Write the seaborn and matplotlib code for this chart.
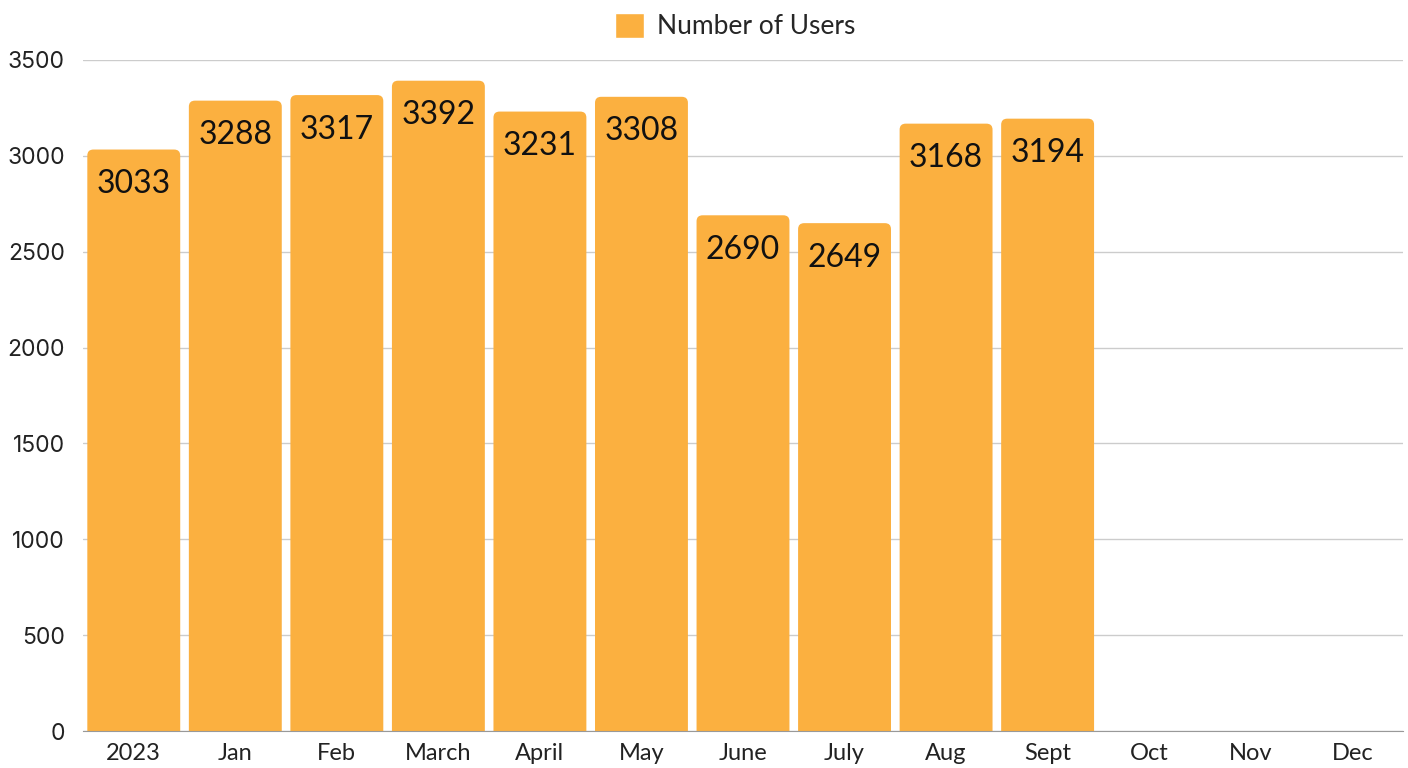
import matplotlib
matplotlib.use("Agg")
import matplotlib.pyplot as plt
import seaborn as sns
import pandas as pd
from matplotlib.patches import FancyBboxPatch, Patch

months = ["2023", "Jan", "Feb", "March", "April", "May", "June", "July",
          "Aug", "Sept", "Oct", "Nov", "Dec"]
users = [3033, 3288, 3317, 3392, 3231, 3308, 2690, 2649, 3168, 3194,
         None, None, None]
yticks = [0, 500, 1000, 1500, 2000, 2500, 3000, 3500]

bar_color = "#FBB040"

sns.set_style("white")
plt.rcParams["font.family"] = ["Lato", "DejaVu Sans"]

df = pd.DataFrame({"month": months, "users": users})

fig = plt.figure(figsize=(14.08, 7.68), dpi=100)
ax = fig.add_axes([83 / 1408, 1 - 731 / 768, 1320 / 1408, 671 / 768])

sns.barplot(data=df, x="month", y="users", color=bar_color, width=0.915,
            saturation=1, ax=ax, order=months)

# swap the flat bars for ones with rounded top corners
radius = 0.06
for patch in list(ax.patches):
    x, w, h = patch.get_x(), patch.get_width(), patch.get_height()
    if not h or h != h:
        patch.remove()
        continue
    rb = FancyBboxPatch((x + radius, -200 + radius * 520), w - 2 * radius,
                        h + 200 - 2 * radius * 520,
                        boxstyle=f"round,pad={radius},rounding_size={radius}",
                        mutation_aspect=520, facecolor=bar_color,
                        edgecolor="none", zorder=2)
    ax.add_patch(rb)
    patch.remove()
    ax.text(x + w / 2, h - 180, f"{h:.0f}", ha="center", va="center",
            fontsize=23, color="#111111", zorder=3)

ax.set_ylim(0, 3500)
ax.set_xlim(-0.5, len(months) - 0.5)
ax.set_yticks(yticks)
ax.set_yticklabels([str(v) for v in yticks], family="Inter", fontsize=16.5)
ax.set_xticks(range(len(months)))
ax.set_xticklabels(months, fontsize=17)
ax.yaxis.grid(True, color="#cccccc", linewidth=1)
ax.set_axisbelow(True)
ax.tick_params(axis="both", length=0, colors="#222222")
ax.tick_params(axis="y", pad=13)
ax.tick_params(axis="x", pad=9)
ax.set_xlabel("")
ax.set_ylabel("")
for side in ["top", "right", "left"]:
    ax.spines[side].set_visible(False)
ax.spines["bottom"].set_color("#999999")

fig.legend(handles=[Patch(facecolor=bar_color, label="Number of Users")],
           loc="center", bbox_to_anchor=(0.522, 1 - 26 / 768), frameon=False,
           fontsize=19, handlelength=1.1, handleheight=1.1, handletextpad=0.5)

fig.savefig("out.png", dpi=100)
